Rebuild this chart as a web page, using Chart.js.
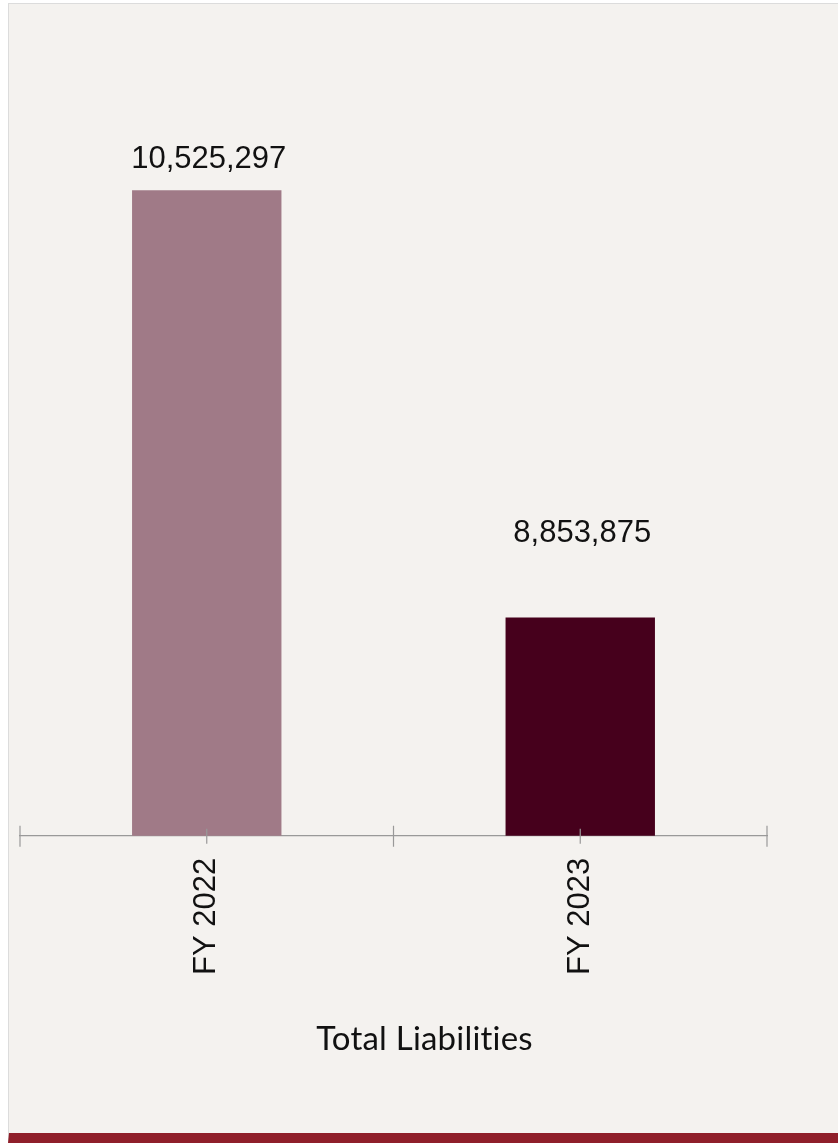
<!DOCTYPE html>
<html>
<head>
<meta charset="utf-8">
<script src="https://cdn.jsdelivr.net/npm/chart.js@4"></script>
<style>
  body { margin: 0; background: #ffffff; }
  #box {
    position: absolute; left: 8px; top: 3px; width: 840px; height: 1129px;
    background: #f4f2ef; border: 1px solid #dcdcdc; border-bottom: 10px solid #8f1f2a;
  }
  #wrap { position: absolute; left: 1px; top: 1px; width: 829px; height: 1128px; }
</style>
</head>
<body>
<div id="box"><div id="wrap"><canvas id="chart1"></canvas></div></div>
<script>
const categories = ['FY 2022', 'FY 2023'];
const liabilities = [10525297, 8853875];
const barColors = ['#a07a87', '#46001c'];
const labelOffsets = [22, 76];
const chartTitle = 'Total Liabilities';
const yMin = 8000000;
const yMax = 11000000;

// value labels over the bars
const valueLabels = {
    id: 'valueLabels',
    afterDatasetsDraw(chart) {
        const c = chart.ctx;
        const meta = chart.getDatasetMeta(0);
        c.save();
        c.font = '31px "Liberation Sans", Arial, sans-serif';
        c.fillStyle = '#111';
        c.textAlign = 'center';
        c.textBaseline = 'alphabetic';
        meta.data.forEach((bar, i) => {
            c.fillText(liabilities[i].toLocaleString('en-US'), bar.x + 2, bar.y - labelOffsets[i]);
        });
        c.restore();
    }
};

// tick marks crossing the x axis line, plus the title centred on the whole canvas
const axisTicks = {
    id: 'axisTicks',
    afterDraw(chart) {
        const x = chart.scales.x;
        const c = chart.ctx;
        const y = x.top;
        const centers = categories.map((_, i) => x.getPixelForValue(i));
        const bounds = [x.left];
        for (let i = 1; i < centers.length; i++) bounds.push((centers[i - 1] + centers[i]) / 2);
        bounds.push(x.right);
        c.save();
        c.strokeStyle = '#999';
        c.lineWidth = 1.2;
        c.beginPath();
        bounds.forEach(px => { c.moveTo(px, y - 10); c.lineTo(px, y + 11); });
        centers.forEach(px => { c.moveTo(px, y - 7); c.lineTo(px, y + 8); });
        c.stroke();

        c.font = '33px Lato, "Open Sans", sans-serif';
        c.letterSpacing = '0.2px';
        c.fillStyle = '#111';
        c.textAlign = 'center';
        c.textBaseline = 'alphabetic';
        c.fillText(chartTitle, chart.width / 2, x.bottom + 53);
        c.restore();
    }
};

const ctx = document.getElementById('chart1').getContext('2d');
const chart1 = new Chart(ctx, {
    type: 'bar',
    data: {
        labels: categories,
        datasets: [
            {
                label: chartTitle,
                data: liabilities,
                backgroundColor: barColors,
                barPercentage: 0.4,
                categoryPercentage: 1
            }
        ]
    },
    options: {
        responsive: true,
        maintainAspectRatio: false,
        animation: false,
        layout: {
            padding: { left: 10, right: 72, top: 64, bottom: 136 }
        },
        scales: {
            x: {
                grid: { display: false, drawTicks: false },
                border: { display: true, color: '#999', width: 1.2 },
                ticks: {
                    color: '#111',
                    minRotation: 90,
                    maxRotation: 90,
                    padding: 22,
                    font: { family: '"Liberation Sans", Arial, sans-serif', size: 31 }
                }
            },
            y: {
                display: false,
                min: yMin,
                max: yMax
            }
        },
        plugins: {
            legend: {
                display: false
            },
            tooltip: { enabled: false },
            title: { display: false }
        }
    },
    plugins: [valueLabels, axisTicks]
});
</script>
</body>
</html>
